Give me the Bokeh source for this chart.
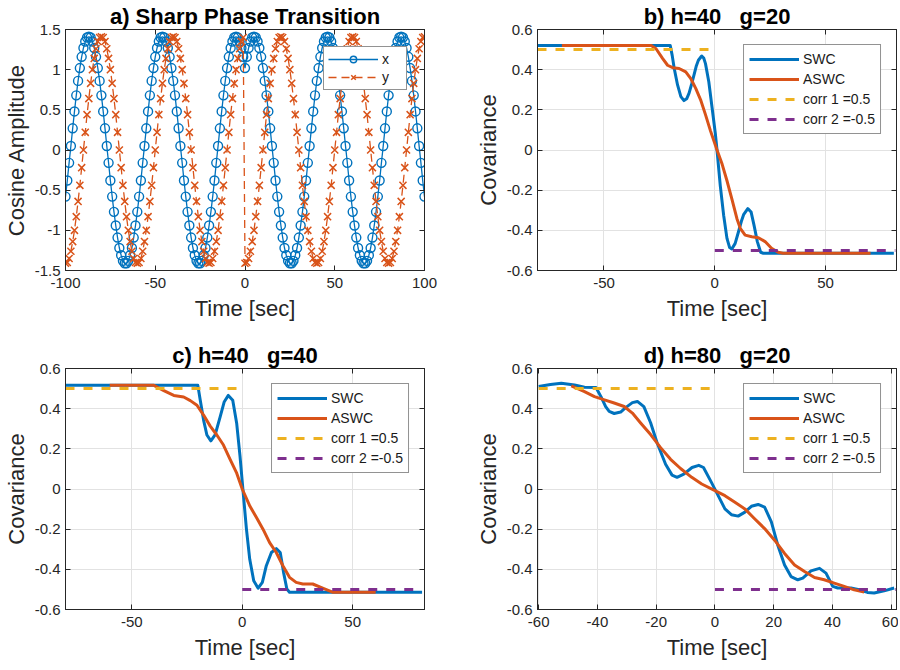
from bokeh.plotting import figure
from bokeh.models import (Legend, LegendItem, LinearAxis, FixedTicker,
                          CustomJSTickFormatter, Range1d)
from bokeh.layouts import row, column
from bokeh.embed import file_html
from bokeh.resources import INLINE

FONT = "Liberation Sans"
BLUE = "#0072BD"
ORANGE = "#D95319"
YELLOW = "#EDB120"
PURPLE = "#7E2F8E"
AX = "#262626"
NB = "\u00a0"

# ---------------- panel a data (1 sample per second) ----------------
t_a = list(range(-100, 101))
x_a = [
    -0.58, -0.38, -0.16, 0.05, 0.27, 0.48, 0.68, 0.86, 1.02, 1.16, 1.27, 1.35, 1.40, 1.41, 1.40, 1.35, 1.27, 1.16, 1.02,
    0.86, 0.68, 0.48, 0.27, 0.05, -0.16, -0.38, -0.58, -0.77, -0.94, -1.09, -1.22, -1.31, -1.38, -1.41, -1.41, -1.38,
    -1.31, -1.22, -1.09, -0.94, -0.77, -0.58, -0.38, -0.16, 0.05, 0.27, 0.48, 0.68, 0.86, 1.02, 1.16, 1.27, 1.35, 1.40,
    1.41, 1.40, 1.35, 1.27, 1.16, 1.02,
    0.86, 0.68, 0.48, 0.27, 0.05, -0.16, -0.38, -0.58, -0.77, -0.94, -1.09, -1.22, -1.31, -1.38, -1.41, -1.41, -1.38,
    -1.31, -1.22, -1.09, -0.94, -0.77, -0.58, -0.38, -0.16, 0.05, 0.27, 0.48, 0.68, 0.86, 1.02, 1.16, 1.27, 1.35, 1.40,
    1.41, 1.40, 1.35, 1.27, 1.16,
    1.02, 1.16, 1.27, 1.35, 1.40, 1.41, 1.40, 1.35, 1.27, 1.16, 1.02, 0.86, 0.68, 0.48, 0.27, 0.05, -0.16, -0.38, -0.58,
    -0.77, -0.94, -1.09, -1.22, -1.31, -1.38, -1.41, -1.41, -1.38, -1.31, -1.22, -1.09, -0.94, -0.77, -0.58, -0.38,
    -0.16, 0.05, 0.27, 0.48, 0.68, 0.86,
    1.02, 1.16, 1.27, 1.35, 1.40, 1.41, 1.40, 1.35, 1.27, 1.16, 1.02, 0.86, 0.68, 0.48, 0.27, 0.05, -0.16, -0.38, -0.58,
    -0.77, -0.94, -1.09, -1.22, -1.31, -1.38, -1.41, -1.41, -1.38, -1.31, -1.22, -1.09, -0.94, -0.77, -0.58, -0.38,
    -0.16, 0.05, 0.27, 0.48, 0.68, 0.86,
    1.02, 1.16, 1.27, 1.35, 1.40, 1.41, 1.40, 1.35, 1.27, 1.16, 1.02, 0.86, 0.68, 0.48, 0.27, 0.05, -0.16, -0.38, -0.58,
]
y_a = [
    -1.41, -1.40, -1.35, -1.26, -1.14, -1.00, -0.83, -0.64, -0.44, -0.22, 0.00, 0.22, 0.44, 0.64, 0.83, 1.00, 1.14,
    1.26, 1.35, 1.40,
    1.41, 1.40, 1.35, 1.26, 1.14, 1.00, 0.83, 0.64, 0.44, 0.22, 0.00, -0.22, -0.44, -0.64, -0.83, -1.00, -1.14, -1.26,
    -1.35, -1.40, -1.41, -1.40, -1.35, -1.26, -1.14, -1.00, -0.83, -0.64, -0.44, -0.22, 0.00, 0.22, 0.44, 0.64, 0.83,
    1.00, 1.14, 1.26, 1.35, 1.40,
    1.41, 1.40, 1.35, 1.26, 1.14, 1.00, 0.83, 0.64, 0.44, 0.22, 0.00, -0.22, -0.44, -0.64, -0.83, -1.00, -1.14, -1.26,
    -1.35, -1.40, -1.41, -1.40, -1.35, -1.26, -1.14, -1.00, -0.83, -0.64, -0.44, -0.22, 0.00, 0.22, 0.44, 0.64, 0.83,
    1.00, 1.14, 1.26, 1.35, 1.40,
    -1.41, -1.40, -1.35, -1.26, -1.14, -1.00, -0.83, -0.64, -0.44, -0.22, 0.00, 0.22, 0.44, 0.64, 0.83, 1.00, 1.14,
    1.26, 1.35, 1.40, 1.41, 1.40, 1.35, 1.26, 1.14, 1.00, 0.83, 0.64, 0.44, 0.22, 0.00, -0.22, -0.44, -0.64, -0.83,
    -1.00, -1.14, -1.26, -1.35, -1.40,
    -1.41, -1.40, -1.35, -1.26, -1.14, -1.00, -0.83, -0.64, -0.44, -0.22, 0.00, 0.22, 0.44, 0.64, 0.83, 1.00, 1.14,
    1.26, 1.35, 1.40, 1.41, 1.40, 1.35, 1.26, 1.14, 1.00, 0.83, 0.64, 0.44, 0.22, 0.00, -0.22, -0.44, -0.64, -0.83,
    -1.00, -1.14, -1.26, -1.35, -1.40,
    -1.41, -1.40, -1.35, -1.26, -1.14, -1.00, -0.83, -0.64, -0.44, -0.22, 0.00, 0.22, 0.44, 0.64, 0.83, 1.00, 1.14,
    1.26, 1.35, 1.40, 1.41,
]

# ---------------- panel b: h=40 g=20 ----------------
b_swc_t = [-80, -20.1, -19.2, -18.3, -16.8, -15.3, -13.9, -12.7, -11.6, -10.4, -9.4, -8.3, -7.4, -5.9, -5.0, -4.2,
           -2.7, -1.2, 0.3, 1.0, 2.5, 4.0, 5.5, 6.7, 7.7, 9.2, 10.7, 12.0, 13.0, 14.9, 16.4, 17.7, 19.2, 20.7, 21.9, 80.8]
b_swc_v = [0.52, 0.52, 0.47, 0.406, 0.324, 0.266, 0.246, 0.255, 0.283, 0.33, 0.373, 0.42, 0.447, 0.468, 0.458, 0.43,
           0.34, 0.209, 0.077, 0.0, -0.18, -0.325, -0.44, -0.486, -0.493, -0.465, -0.407, -0.355, -0.322, -0.292,
           -0.309, -0.374, -0.456, -0.509, -0.514, -0.514]
b_aswc_t = [-69, -28.7, -26.5, -23.5, -21.3, -19.0, -16.1, -13.1, -10.9, -8.6, -6.4, -4.2, -1.9, 1.0, 3.3, 5.5, 7.7,
            10.0, 11.5, 13.7, 16.7, 19.7, 22.7, 25.6, 28.6, 30.8, 70.3]
b_aswc_v = [0.52, 0.52, 0.504, 0.455, 0.422, 0.41, 0.406, 0.389, 0.357, 0.307, 0.25, 0.176, 0.094, 0.0, -0.07,
            -0.153, -0.243, -0.342, -0.39, -0.424, -0.432, -0.437, -0.456, -0.489, -0.509, -0.514, -0.514]
b_c1_t = [-80, 0]
b_c2_t = [0, 81.5]

# ---------------- panel c: h=40 g=40 ----------------
c_swc_t = [-80, -20.1, -19.0, -17.5, -16.0, -14.2, -12.3, -10.0, -8.2, -6.3, -4.3, -2.5, -1.0, 0.45, 1.9, 3.4, 5.2,
           7.2, 9.1, 10.9, 13.2, 15.4, 17.2, 18.7, 20.2, 21.4, 81.4]
c_swc_v = [0.516, 0.516, 0.442, 0.343, 0.269, 0.24, 0.269, 0.359, 0.433, 0.466, 0.442, 0.326, 0.162, -0.02, -0.2,
           -0.35, -0.457, -0.494, -0.465, -0.382, -0.316, -0.297, -0.316, -0.415, -0.498, -0.514, -0.514]
c_aswc_t = [-60, -40, -35.5, -31, -26.5, -23.5, -20.5, -17.5, -14.5, -11.5, -8.5, -5.5, -2.5, 0, 3.5, 6.5, 9.4, 12.4,
            15.4, 18.4, 21.4, 24.4, 27.4, 31.9, 36.4, 40.9, 60.4]
c_aswc_v = [0.516, 0.516, 0.49, 0.466, 0.458, 0.44, 0.417, 0.368, 0.313, 0.269, 0.219, 0.148, 0.079, 0.0, -0.086,
            -0.143, -0.2, -0.267, -0.316, -0.382, -0.44, -0.465, -0.473, -0.473, -0.494, -0.514, -0.514]
c_c1_t = [-80, 0]
c_c2_t = [0, 81.2]

# ---------------- panel d: h=80 g=20 ----------------
d_swc_t = [-60, -56, -52.3, -47.8, -44.4, -40.5, -38.8, -37.2, -36, -34.3, -32.1, -30.4, -28.1, -26.4, -24.2, -21.9,
           -19.7, -16.8, -14.6, -12.9, -10.6, -7.8, -5.5, -3.9, -1.2, 1.1, 3.4, 5.6, 7.9, 10.2, 12.4, 14.7, 16.9, 19.2,
           21.4, 23.7, 25.9, 28.2, 29.9, 32.7, 35.6, 37.8, 40.1, 41.8, 46.3, 49.1, 51.9, 54.2, 57.6, 61]
d_swc_v = [0.51, 0.52, 0.526, 0.518, 0.507, 0.505, 0.46, 0.41, 0.386, 0.376, 0.383, 0.405, 0.43, 0.436, 0.41, 0.33,
           0.23, 0.123, 0.069, 0.058, 0.074, 0.107, 0.118, 0.107, 0.033, -0.033, -0.099, -0.128, -0.135, -0.115,
           -0.086, -0.077, -0.09, -0.164, -0.28, -0.378, -0.436, -0.452, -0.444, -0.408, -0.395, -0.419, -0.485,
           -0.493, -0.493, -0.502, -0.515, -0.518, -0.507, -0.493]
d_aswc_t = [-48.9, -44.4, -41, -37.6, -34.3, -30.9, -28.1, -25.3, -21.9, -18.5, -15.1, -11.7, -7.9, -4.5, 0, 3.4, 6.8,
            10.2, 13.5, 16.9, 20.3, 23.7, 27.1, 30.5, 33.9, 37.2, 40.6, 44, 47.4, 50.8]
d_aswc_v = [0.513, 0.485, 0.46, 0.444, 0.428, 0.411, 0.378, 0.329, 0.271, 0.206, 0.148, 0.102, 0.058, 0.025, -0.008,
            -0.033, -0.066, -0.099, -0.148, -0.197, -0.255, -0.321, -0.378, -0.411, -0.441, -0.452, -0.469, -0.485,
            -0.502, -0.513]
d_c1_t = [-60, 0]
d_c2_t = [0, 61.5]

corr1_v = [0.5, 0.5]
corr2_v = [-0.5, -0.5]

W, H = 359, 241


def make_panel(title, xr, yr, xticks, yticks, ylabel, grid, rborder):
    p = figure(frame_width=W, frame_height=H, x_range=Range1d(*xr), y_range=Range1d(*yr),
               output_backend="svg", toolbar_location=None, title=title,
               min_border_left=0, min_border_right=rborder, min_border_top=0, min_border_bottom=0,
               background_fill_color="white", border_fill_color="white")
    p.title.text_font = FONT
    p.title.text_font_size = "22px"
    p.title.text_font_style = "bold"
    p.title.text_color = "black"
    p.title.align = "center"
    p.title.standoff = 2
    p.outline_line_color = AX
    p.outline_line_width = 1
    fmt = CustomJSTickFormatter(code="return tick.toString();")
    xt = FixedTicker(ticks=xticks)
    yt = FixedTicker(ticks=yticks)
    for ax, tk in ((p.xaxis[0], xt), (p.yaxis[0], yt)):
        ax.ticker = tk
        ax.formatter = fmt
        ax.major_tick_in = 5
        ax.major_tick_out = 0
        ax.minor_tick_line_color = None
        ax.axis_line_color = AX
        ax.major_tick_line_color = AX
        ax.major_label_text_font = FONT
        ax.major_label_text_font_size = "15px"
        ax.major_label_text_color = AX
        ax.axis_label_text_font = FONT
        ax.axis_label_text_font_size = "22px"
        ax.axis_label_text_font_style = "normal"
        ax.axis_label_text_color = AX
    p.xaxis[0].major_label_standoff = 7
    p.xaxis[0].axis_label_standoff = 5
    p.yaxis[0].major_label_standoff = 5
    p.yaxis[0].axis_label_standoff = 3
    p.xaxis[0].axis_label = "Time [sec]"
    p.yaxis[0].axis_label = ylabel
    p.xgrid.ticker = xt
    p.ygrid.ticker = yt
    gcol = "#e2e2e2" if grid else None
    p.xgrid.grid_line_color = gcol
    p.ygrid.grid_line_color = gcol
    for loc, tk in (("above", xt), ("right", yt)):
        ax = LinearAxis(ticker=tk, major_label_text_font_size="0px", major_label_text_color=None,
                        major_tick_in=5, major_tick_out=0, minor_tick_line_color=None,
                        axis_line_color=AX, major_tick_line_color=AX, major_label_standoff=0)
        p.add_layout(ax, loc)
    return p


def style_legend(lg, pad, gh, spacing):
    lg.location = "top_right"
    lg.margin = 15
    lg.border_line_color = AX
    lg.border_line_width = 1
    lg.background_fill_color = "white"
    lg.background_fill_alpha = 1.0
    lg.label_text_font = FONT
    lg.label_text_font_size = "14px"
    lg.label_text_color = "#1a1a1a"
    lg.glyph_width = 50
    lg.glyph_height = gh
    lg.label_height = gh
    lg.label_standoff = 4
    lg.padding = pad
    lg.spacing = spacing


# ---------------- panel a ----------------
pa = make_panel("a) Sharp Phase Transition", (-100, 100), (-1.5, 1.5), [-100, -50, 0, 50, 100],
                [-1.5, -1, -0.5, 0, 0.5, 1, 1.5], "Cosine Amplitude", False, 48)
lx = pa.line(t_a, x_a, line_color=BLUE, line_width=1.3)
sx = pa.scatter(t_a, x_a, marker="circle", size=9, fill_color=None, line_color=BLUE, line_width=1.4)
ly = pa.line(t_a, y_a, line_color=ORANGE, line_width=1.3, line_dash="8 5")
sy = pa.scatter(t_a, y_a, marker="x", size=10, line_color=ORANGE, line_width=1.5)
lga = Legend(items=[LegendItem(label="x", renderers=[lx, sx]), LegendItem(label="y", renderers=[ly, sy])])
style_legend(lga, 4, 16, 2)
lga.margin = 17
pa.add_layout(lga)


def cov_panel(title, xr, xticks, swc_t, swc_v, aswc_t, aswc_v, c1_t, c2_t, rborder):
    p = make_panel(title, xr, (-0.6, 0.6), xticks, [-0.6, -0.4, -0.2, 0, 0.2, 0.4, 0.6],
                   "Covariance", True, rborder)
    r1 = p.line(swc_t, swc_v, line_color=BLUE, line_width=3, line_join="round")
    r2 = p.line(aswc_t, aswc_v, line_color=ORANGE, line_width=3, line_join="round")
    r3 = p.line(c1_t, corr1_v, line_color=YELLOW, line_width=3, line_dash="9 9")
    r4 = p.line(c2_t, corr2_v, line_color=PURPLE, line_width=3, line_dash="9 9")
    lg = Legend(items=[LegendItem(label="SWC", renderers=[r1]), LegendItem(label="ASWC", renderers=[r2]),
                       LegendItem(label="corr 1 =0.5", renderers=[r3]),
                       LegendItem(label="corr 2 =-0.5", renderers=[r4])])
    style_legend(lg, 5, 18, 2)
    p.add_layout(lg)
    return p


pb = cov_panel("b) h=40" + NB * 3 + "g=20", (-80, 82), [-50, 0, 50], b_swc_t, b_swc_v, b_aswc_t, b_aswc_v,
               b_c1_t, b_c2_t, 2)
pc = cov_panel("c) h=40" + NB * 3 + "g=40", (-80, 82.5), [-50, 0, 50], c_swc_t, c_swc_v, c_aswc_t, c_aswc_v,
               c_c1_t, c_c2_t, 48)
pd_ = cov_panel("d) h=80" + NB * 3 + "g=20", (-60.4, 61.8), [-60, -40, -20, 0, 20, 40, 60], d_swc_t, d_swc_v,
                d_aswc_t, d_aswc_v, d_c1_t, d_c2_t, 2)

layout = column(row(pa, pb), row(pc, pd_), spacing=16)

with open("out.html", "w") as f:
    f.write(file_html(layout, INLINE))
